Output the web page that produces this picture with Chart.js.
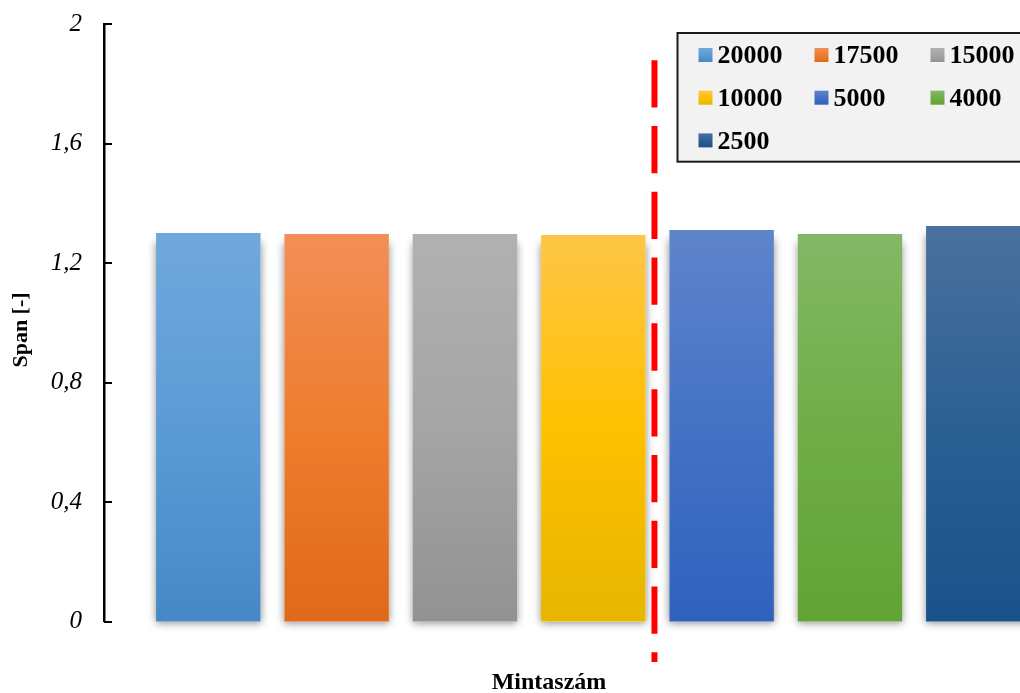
<!DOCTYPE html>
<html>
<head>
<meta charset="utf-8">
<script src="https://cdn.jsdelivr.net/npm/chart.js@4.4.1/dist/chart.umd.min.js"></script>
<style>
  html, body { margin: 0; padding: 0; overflow: hidden; background: #fff; width: 1020px; height: 693px; }
  #wrap { position: relative; width: 1098px; height: 693px; }
</style>
</head>
<body>
<div id="wrap"><canvas id="c" width="1098" height="693"></canvas></div>
<script>
// Sample counts (one bar each) and their measured span
const sampleCounts = ['20000', '17500', '15000', '10000', '5000', '4000', '2500'];
const spanValues   = [1.301, 1.298, 1.298, 1.295, 1.311, 1.298, 1.325];
const yTickLabels  = ['0', '0,4', '0,8', '1,2', '1,6', '2'];
const yTitle = 'Span [-]';
const xTitle = 'Mintaszám';

// top / middle / bottom shade of each bar's vertical gradient
const barShades = [
  ['#71a8dc', '#5b9bd5', '#4688c7'],
  ['#f28e57', '#ee7d2e', '#e0681a'],
  ['#b1b1b1', '#a5a5a5', '#929292'],
  ['#fec647', '#ffc000', '#e6b600'],
  ['#5f84cc', '#4472c4', '#3061bd'],
  ['#83b866', '#70ad47', '#62a335'],
  ['#4b709e', '#2b6093', '#19528a']
];

const FONT = "'Liberation Serif', 'Times New Roman', serif";

function verticalGradient(ctx, shades, top, bottom) {
  const g = ctx.createLinearGradient(0, top, 0, bottom);
  g.addColorStop(0, shades[0]);
  g.addColorStop(0.5, shades[1]);
  g.addColorStop(1, shades[2]);
  return g;
}

function barFill(i) {
  return (context) => {
    const chart = context.chart;
    if (!chart.chartArea || !chart.scales.y) return barShades[i][1];
    const y = chart.scales.y;
    return verticalGradient(chart.ctx, barShades[i], y.getPixelForValue(spanValues[i]), y.getPixelForValue(0));
  };
}

// Soft shadow at the sides and foot of every bar
const barShadow = {
  id: 'barShadow',
  beforeDatasetsDraw(chart) {
    const ctx = chart.ctx;
    ctx.save();
    ctx.shadowColor = 'rgba(0,0,0,0.45)';
    ctx.shadowBlur = 8;
    ctx.shadowOffsetY = 1;
    ctx.fillStyle = '#ffffff';
    chart.data.datasets.forEach((ds, i) => {
      chart.getDatasetMeta(i).data.forEach(bar => {
        const w = bar.width;
        ctx.fillRect(bar.x - w / 2, bar.y + 8, w, bar.base - bar.y - 8);
      });
    });
    ctx.restore();
  }
};

// Inward tick marks on the value axis
const innerTicks = {
  id: 'innerTicks',
  afterDraw(chart) {
    const ctx = chart.ctx, y = chart.scales.y, x0 = chart.chartArea.left;
    ctx.save();
    ctx.strokeStyle = '#000';
    ctx.lineWidth = 2;
    y.ticks.forEach(t => {
      const py = Math.round(y.getPixelForValue(t.value));
      ctx.beginPath();
      ctx.moveTo(x0, py);
      ctx.lineTo(x0 + 8, py);
      ctx.stroke();
    });
    ctx.restore();
  }
};

// Red dashed separator between the 10000 and 5000 bars
const separator = {
  id: 'separator',
  afterDatasetsDraw(chart, args, opts) {
    const a = chart.getDatasetMeta(opts.after).data[0];
    const b = chart.getDatasetMeta(opts.after + 1).data[0];
    const x = ((a.x + a.width / 2) + (b.x - b.width / 2)) / 2 + opts.shift;
    const y = chart.scales.y;
    const ctx = chart.ctx;
    ctx.save();
    ctx.strokeStyle = '#ff0000';
    ctx.lineWidth = 6;
    ctx.setLineDash(opts.dash);
    ctx.beginPath();
    ctx.moveTo(x, y.getPixelForValue(opts.from));
    ctx.lineTo(x, y.getPixelForValue(opts.to));
    ctx.stroke();
    ctx.restore();
  }
};

// Boxed legend, three entries per row
const boxLegend = {
  id: 'boxLegend',
  afterDraw(chart, args, o) {
    const ctx = chart.ctx;
    ctx.save();
    ctx.fillStyle = '#f2f2f2';
    ctx.fillRect(o.x, o.y, o.w, o.h);
    ctx.strokeStyle = '#1a1a1a';
    ctx.lineWidth = 2;
    ctx.strokeRect(o.x, o.y, o.w, o.h);
    ctx.font = 'bold 26px ' + FONT;
    ctx.textBaseline = 'middle';
    ctx.textAlign = 'left';
    chart.data.datasets.forEach((ds, i) => {
      const col = i % o.cols, row = Math.floor(i / o.cols);
      const sx = o.x + o.padX + col * o.colW;
      const cy = o.y + o.padY + row * o.rowH;
      const s = o.swatch;
      ctx.fillStyle = verticalGradient(ctx, barShades[i], cy - s / 2, cy + s / 2);
      ctx.fillRect(sx, cy - s / 2, s, s);
      ctx.fillStyle = '#000';
      ctx.fillText(ds.label, sx + s + 5, cy + 1.5);
    });
    ctx.restore();
  }
};

// Axis captions: category caption under the plot, value caption rotated at the left
const captions = {
  id: 'captions',
  afterDraw(chart, args, o) {
    const ctx = chart.ctx;
    ctx.save();
    ctx.fillStyle = '#000';
    ctx.textAlign = 'center';
    ctx.textBaseline = 'alphabetic';
    ctx.font = 'bold 24px ' + FONT;
    ctx.fillText(o.x.text, chart.width / 2, chart.height - o.x.bottom);
    ctx.translate(o.y.left, (chart.chartArea.top + chart.chartArea.bottom) / 2 + o.y.shift);
    ctx.rotate(-Math.PI / 2);
    ctx.textBaseline = 'middle';
    ctx.font = 'bold 22px ' + FONT;
    ctx.fillText(o.y.text, 0, 0);
    ctx.restore();
  }
};

const datasets = sampleCounts.map((label, i) => ({
  label,
  data: [spanValues[i]],
  backgroundColor: barFill(i),
  borderWidth: 0,
  categoryPercentage: 0.918,
  barPercentage: 0.814
}));

new Chart(document.getElementById('c'), {
  type: 'bar',
  data: { labels: [''], datasets },
  options: {
    responsive: false,
    animation: false,
    layout: { padding: { top: 24.3, right: 15.4, bottom: 0, left: 0 } },
    plugins: {
      legend: { display: false },
      tooltip: { enabled: false },
      separator: { after: 3, shift: -3, from: 1.88, to: -0.135, dash: [47.3, 18.5] },
      boxLegend: { x: 677.5, y: 33, w: 370, h: 128.7, cols: 3, colW: 116, rowH: 42.7, padX: 21, padY: 22, swatch: 14 },
      captions: {
        x: { text: xTitle, bottom: 3.7 },
        y: { text: yTitle, left: 21, shift: 7 }
      }
    },
    scales: {
      x: {
        grid: { display: false },
        border: { display: false },
        ticks: { display: false },
        afterFit(scale) { scale.height = 71.3; }
      },
      y: {
        min: 0,
        max: 2,
        afterFit(scale) {
          scale.width = 104;
          scale.paddingTop = 0;
          scale.paddingBottom = 0;
        },
        afterBuildTicks(scale) {
          scale.ticks = yTickLabels.map(t => ({ value: parseFloat(t.replace(',', '.')) }));
        },
        grid: { display: false, drawTicks: false },
        border: { display: true, color: '#000', width: 2.5 },
        ticks: {
          padding: 22,
          color: '#000',
          font: { family: FONT, size: 25, style: 'italic' },
          callback: (v, idx) => yTickLabels[idx]
        },
        title: { display: false }
      }
    }
  },
  plugins: [barShadow, innerTicks, separator, boxLegend, captions]
});
</script>
</body>
</html>
